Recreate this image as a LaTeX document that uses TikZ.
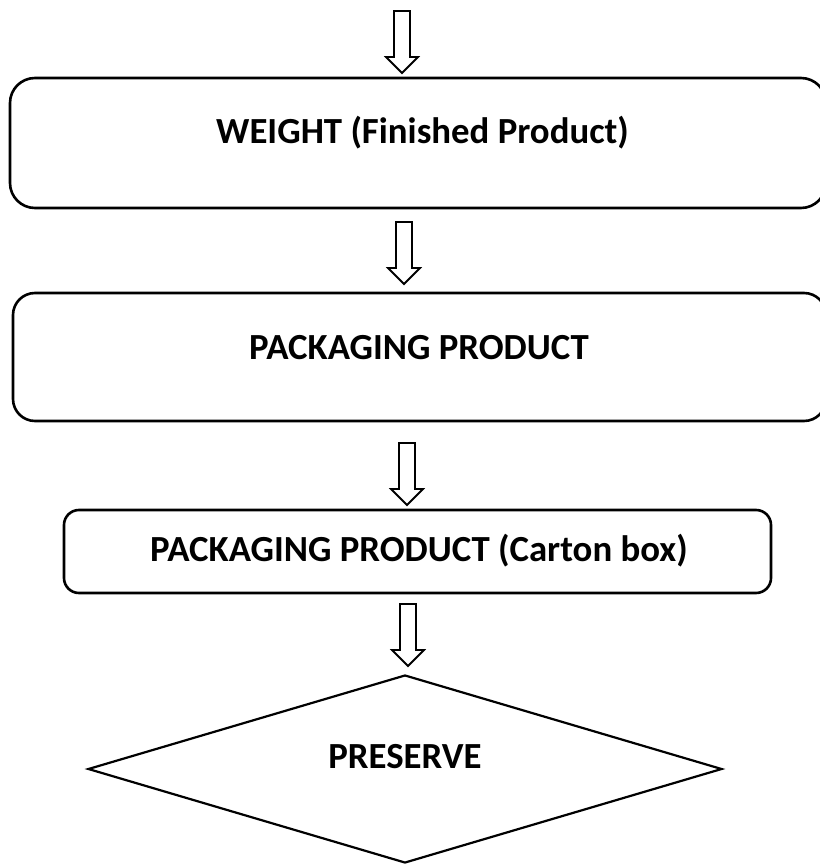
\documentclass[tikz,border=0pt]{standalone}
\usepackage{fontspec}
\setmainfont{Carlito}
\usetikzlibrary{shapes.geometric}

\tikzset{%
  stepbox/.style={draw, line width=1.3pt, inner sep=0pt},
  steptext/.style={font=\bfseries\fontsize{18.4}{22}\selectfont, inner sep=0pt},
  pics/downarrow/.style={code={%
      \draw[line width=0.9pt, fill=white] (-8,0) -- (8,0) -- (8,46) -- (16,46)
        -- (0,62) -- (-16,46) -- (-8,46) -- cycle;
  }},
}

\begin{document}
\begin{tikzpicture}[%
      x=0.5pt, y=-0.5pt,
      ]
      \useasboundingbox (0,0) rectangle (819,865);

      % boxes
      \node [stepbox, rounded corners=12.5pt, minimum width=408pt, minimum height=65pt] (weight) at (418,143) {};
      \node [stepbox, rounded corners=11pt, minimum width=406.5pt, minimum height=64pt] (pack) at (419.5,357) {};
      \node [stepbox, rounded corners=7.5pt, minimum width=353.5pt, minimum height=41.5pt] (carton) at (417.5,551.5) {};
      \node [stepbox, shape=diamond, line width=1.1pt, minimum width=317pt, minimum height=94pt] (preserve) at (405,769) {};

      % texts
      \node [steptext] (weighttext) at (422.5,133) {WEIGHT (Finished Product)};
      \node [steptext] (packtext) at (419,348) {PACKAGING PRODUCT};
      \node [steptext] (cartontext) at (419,551) {PACKAGING PRODUCT (Carton box)};
      \node [steptext] (preservetext) at (405,757) {PRESERVE};

      % arrows
      \coordinate (a1) at (402,11);
      \coordinate (a2) at (404,222);
      \coordinate (a3) at (407,443);
      \coordinate (a4) at (408,604);
      \pic at (a1) {downarrow};
      \pic at (a2) {downarrow};
      \pic at (a3) {downarrow};
      \pic at (a4) {downarrow};
\end{tikzpicture}
\end{document}
